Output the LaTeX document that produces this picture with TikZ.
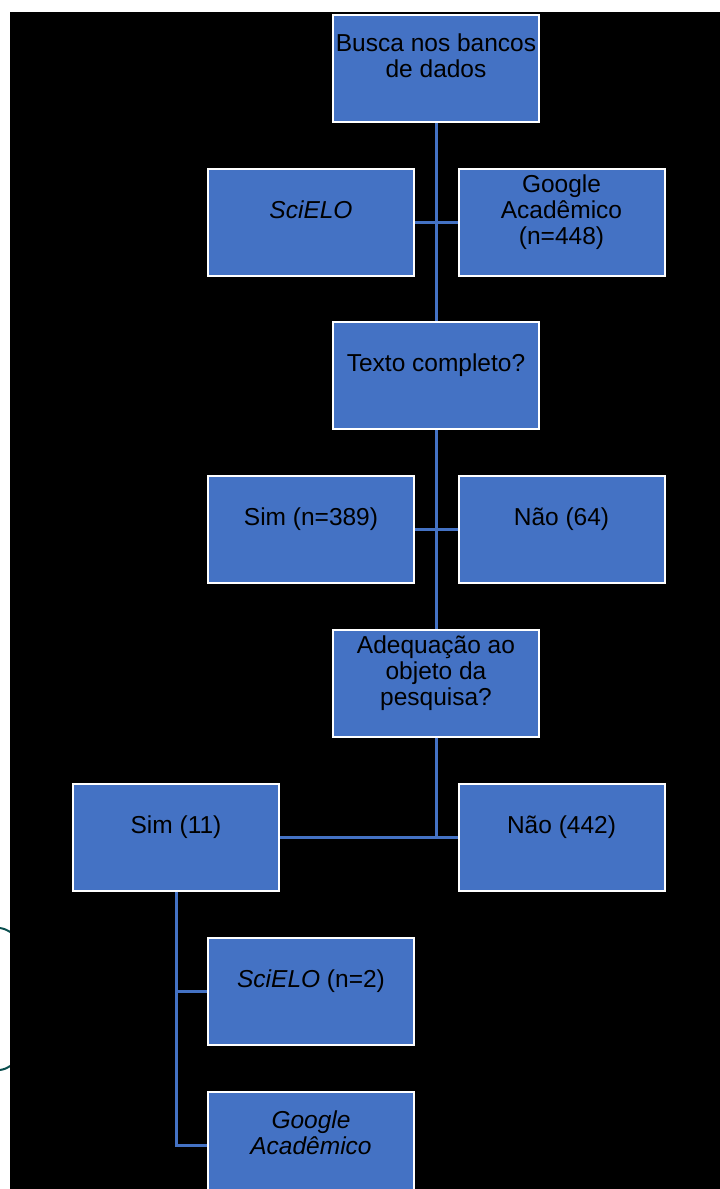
\documentclass[tikz,border=0pt]{standalone}
\usepackage{fontspec}
\setmainfont{Liberation Sans}
\usepackage{tikz}
\usepackage{xcolor}
\definecolor{boxblue}{HTML}{4472C4}
\definecolor{edgeteal}{HTML}{0B4F4F}

\begin{document}
\begin{tikzpicture}[x=1pt,y=-1pt,
        box/.style={draw=white,line width=2pt,fill=boxblue,minimum width=206pt,minimum height=107pt,
          align=center,text depth=25pt,font=\fontsize{24.5}{26}\selectfont,text=black,inner sep=0pt},
        link/.style={draw=boxblue,line width=3pt}]
        \useasboundingbox (0,0) rectangle (720,1189);
        \clip (0,0) rectangle (720,1189);
        \fill[white] (0,0) rectangle (720,1189);
        \draw[edgeteal,line width=2pt] (0,928) .. controls (5,929) .. (12,933);
        \draw[edgeteal,line width=2pt] (0,1070) .. controls (5,1069) .. (12,1065);
        \fill[black] (10,12) rectangle (720,1189);
        \node[box] (busca) at (436,68.5) {Busca nos bancos\\de dados};
        \node[box] (scielo) at (311,222) {\textit{SciELO}};
        \node[box] (google) at (561.5,222) {Google\\Acadêmico\\(n=448)};
        \node[box] (texto) at (436,375.5) {Texto completo?};
        \node[box] (sim) at (311,529) {Sim (n=389)};
        \node[box] (nao) at (561.5,529) {Não (64)};
        \node[box] (adequacao) at (436,683) {Adequação ao\\objeto da\\pesquisa?};
        \node[box] (simfinal) at (176,837) {Sim (11)};
        \node[box] (naofinal) at (561.5,837) {Não (442)};
        \node[box] (scielofinal) at (311,991.5) {\textit{SciELO} (n=2)};
        \node[box] (googlefinal) at (311,1145.5) {\textit{Google}\\\textit{Acadêmico}};
        \draw[link] (busca.south) -- (texto.north);
        \draw[link] (scielo.east) -- (google.west);
        \draw[link] (texto.south) -- (adequacao.north);
        \draw[link] (sim.east) -- (nao.west);
        \draw[link] (adequacao.south) -- (adequacao.south |- naofinal.west);
        \draw[link] (simfinal.east) -- (naofinal.west);
        \draw[link] (simfinal.south) |- (googlefinal.west);
        \draw[link] (simfinal.south |- scielofinal.west) -- (scielofinal.west);
      \end{tikzpicture}
\end{document}
